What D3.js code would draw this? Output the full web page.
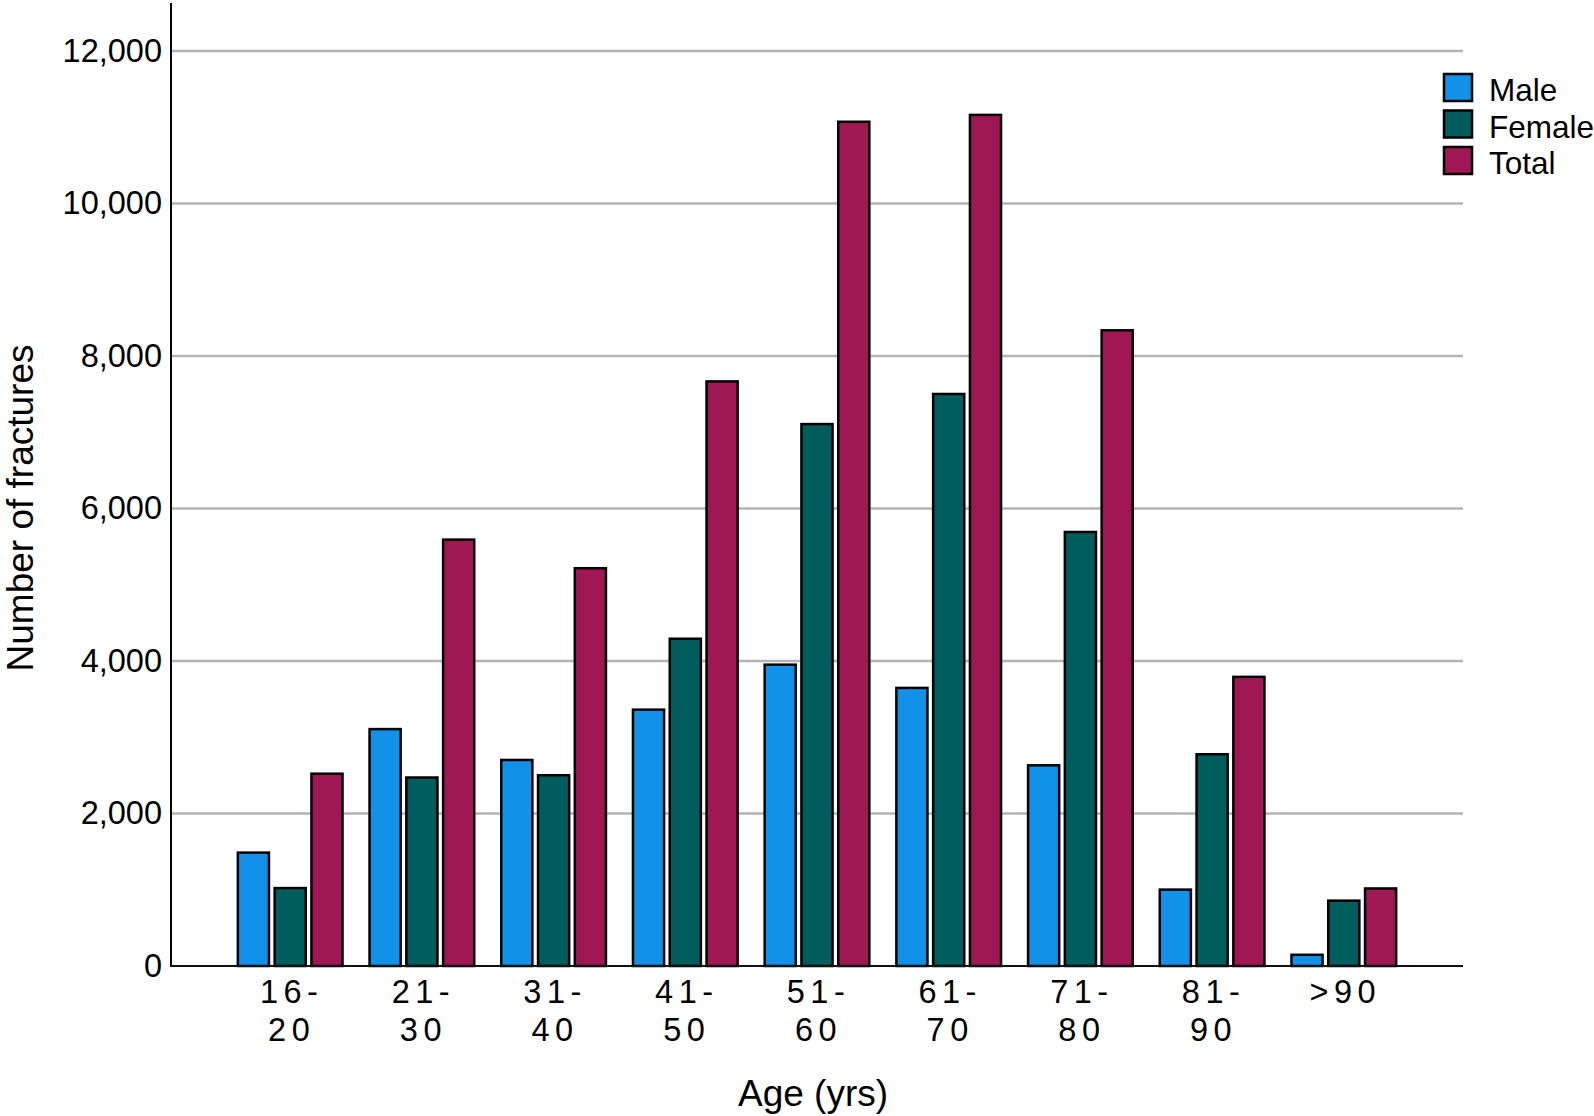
<!DOCTYPE html>
<html>
<head>
<meta charset="utf-8">
<script src="https://cdn.jsdelivr.net/npm/d3@7"></script>
<style>
  html, body { margin: 0; padding: 0; background: #fff; }
  svg { display: block; font-family: "Liberation Sans", Arial, Helvetica, sans-serif; }
</style>
</head>
<body>
<svg id="chart" width="1594" height="1116"></svg>
<script>
// ---- data ----
const categories = ["16-20", "21-30", "31-40", "41-50", "51-60", "61-70", "71-80", "81-90", ">90"];
const seriesNames = ["Male", "Female", "Total"];
const maleValues   = [1500, 3120, 2715, 3375, 3965, 3660, 2645, 1015, 160];
const femaleValues = [1035, 2485, 2515, 4305, 7120, 7515, 5705, 2790, 870];
const totalValues  = [2535, 5605, 5230, 7680, 11085, 11175, 8350, 3805, 1030];
const yTicks = [0, 2000, 4000, 6000, 8000, 10000, 12000];
const colors = ["#1192e8", "#005d5d", "#9f1853"];

const seriesValues = [maleValues, femaleValues, totalValues];
const table = categories.map((c, i) => ({
  cat: c,
  vals: seriesNames.map((s, j) => ({ key: s, value: seriesValues[j][i] }))
}));

// ---- layout ----
const svg = d3.select("#chart");
const plotLeft = 171, plotRight = 1463, plotBottom = 966, plotTopTick = 51, axisTop = 3;

const x0 = d3.scaleBand().domain(categories).range([plotLeft, plotRight])
  .paddingInner(0.19).paddingOuter(0.5);
const x1 = d3.scaleBand().domain(seriesNames).range([0, x0.bandwidth()]).paddingInner(0.1);
const y = d3.scaleLinear().domain([0, 12000]).range([plotBottom, plotTopTick]);
const color = d3.scaleOrdinal().domain(seriesNames).range(colors);

// gridlines
svg.append("g")
  .selectAll("line")
  .data(yTicks.filter(t => t > 0))
  .join("line")
  .attr("x1", plotLeft).attr("x2", plotRight)
  .attr("y1", d => y(d)).attr("y2", d => y(d))
  .attr("stroke", "#b4b4b4").attr("stroke-width", 2.5);

// bars
const groups = svg.append("g")
  .selectAll("g")
  .data(table)
  .join("g")
  .attr("transform", d => `translate(${x0(d.cat)},0)`);

groups.selectAll("rect")
  .data(d => d.vals)
  .join("rect")
  .attr("x", d => x1(d.key) + 1)
  .attr("width", x1.bandwidth() - 2)
  .attr("y", d => y(d.value) + 1)
  .attr("height", d => Math.max(0, y(0) - y(d.value) - 1))
  .attr("fill", d => color(d.key))
  .attr("stroke", "#000")
  .attr("stroke-width", 2.5);

// y axis
const yAxis = d3.axisLeft(y).tickValues(yTicks).tickSize(0).tickPadding(9)
  .tickFormat(d3.format(","));
const gy = svg.append("g").attr("transform", `translate(${plotLeft},0)`).call(yAxis);
gy.select(".domain").remove();
gy.selectAll("text").attr("font-size", 32.5).attr("fill", "#000")
  .attr("font-family", "Liberation Sans, Arial, sans-serif");
svg.append("line")
  .attr("x1", plotLeft).attr("x2", plotLeft)
  .attr("y1", axisTop).attr("y2", plotBottom + 1)
  .attr("stroke", "#000").attr("stroke-width", 2);

// x axis
svg.append("line")
  .attr("x1", plotLeft).attr("x2", plotRight)
  .attr("y1", plotBottom).attr("y2", plotBottom)
  .attr("stroke", "#111").attr("stroke-width", 2);

const xAxis = d3.axisBottom(x0).tickSize(0).tickPadding(0);
const gx = svg.append("g").attr("transform", `translate(0,${plotBottom})`).call(xAxis);
gx.select(".domain").remove();
gx.selectAll(".tick text").each(function(d) {
  const t = d3.select(this);
  const parts = d.split(/(?<=-)/);
  t.text(null)
    .attr("font-size", 32.5).attr("fill", "#000")
    .attr("letter-spacing", "5.5px")
    .attr("font-family", "Liberation Sans, Arial, sans-serif")
    .attr("y", 0).attr("dy", null);
  parts.forEach((p, i) => {
    t.append("tspan").attr("x", 1.5).attr("y", 37 + i * 38).text(p);
  });
});

// axis titles
svg.append("text")
  .attr("x", 813).attr("y", 1106)
  .attr("text-anchor", "middle").attr("font-size", 37).attr("fill", "#000")
  .text("Age (yrs)");
svg.append("text")
  .attr("transform", "translate(33,508) rotate(-90)")
  .attr("text-anchor", "middle").attr("font-size", 37).attr("fill", "#000")
  .text("Number of fractures");

// legend
const legend = svg.append("g").attr("transform", "translate(1444,74)");
const li = legend.selectAll("g").data(seriesNames).join("g")
  .attr("transform", (d, i) => `translate(0,${i * 36.5})`);
li.append("rect").attr("x", 0).attr("y", 0).attr("width", 28).attr("height", 27)
  .attr("fill", d => color(d)).attr("stroke", "#000").attr("stroke-width", 2.5);
li.append("text").attr("x", 45).attr("y", 16).attr("dy", "0.36em")
  .attr("font-size", 31.5).attr("fill", "#000").text(d => d);
</script>
</body>
</html>
